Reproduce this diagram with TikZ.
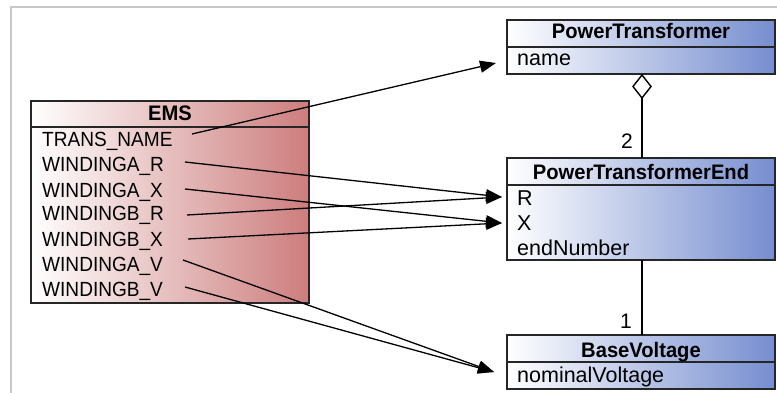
\documentclass[tikz,border=0pt]{standalone}
\usepackage{fontspec}
\setmainfont{Liberation Sans}[BoldFeatures={FakeStretch=0.96}]
\newfontfamily\emsrowfont{Liberation Sans}[FakeStretch=0.93]
\usetikzlibrary{arrows.meta}
\definecolor{emsred}{RGB}{205,125,125}
\definecolor{umlblue}{RGB}{118,142,208}
\definecolor{framegray}{RGB}{200,200,200}
\begin{document}
\begin{tikzpicture}[x=1pt,y=-1pt,
  rowtext/.style={anchor=base west, inner sep=0pt, font=\fontsize{21.5}{24}\selectfont, text=black},
  emsrow/.style={anchor=base west, inner sep=0pt, font=\emsrowfont\fontsize{20.5}{24}\selectfont, text=black},
  headtext/.style={anchor=base, inner sep=0pt, font=\fontsize{21}{24}\selectfont\bfseries, text=black},
  multlabel/.style={anchor=base, inner sep=0pt, font=\fontsize{21}{24}\selectfont, text=black},
  boxline/.style={line width=1.4pt, draw=black!85},
  conn/.style={line width=1.3pt, -{Triangle[length=16pt,width=12pt]}},
  assoc/.style={line width=1.4pt},
]
\useasboundingbox (0,0) rectangle (777,393);
% frame
\draw[framegray, line width=2pt] (11,393) -- (11,7) -- (777,7);

% EMS box
\path[left color=white, right color=emsred] (31,101) rectangle (309,303);
\draw[boxline] (31,101) rectangle (309,303);
\draw[boxline] (31,127) -- (309,127);
\node[headtext] (emsh) at (170,121) {EMS};
\node[emsrow] (e1) at (42,147) {TRANS\_NAME};
\node[emsrow] (e2) at (42,172) {WINDINGA\_R};
\node[emsrow] (e3) at (42,197) {WINDINGA\_X};
\node[emsrow] (e4) at (42,221) {WINDINGB\_R};
\node[emsrow] (e5) at (42,246) {WINDINGB\_X};
\node[emsrow] (e6) at (42,271) {WINDINGA\_V};
\node[emsrow] (e7) at (42,296) {WINDINGB\_V};

% PowerTransformer
\path[left color=white, right color=umlblue] (507,20) rectangle (775,74);
\draw[boxline] (507,20) rectangle (775,74);
\draw[boxline] (507,47) -- (775,47);
\node[headtext] (pth) at (641,39) {PowerTransformer};
\node[rowtext] (ptname) at (517,66) {name};

% PowerTransformerEnd
\path[left color=white, right color=umlblue] (507,158) rectangle (775,260);
\draw[boxline] (507,158) rectangle (775,260);
\draw[boxline] (507,185) -- (775,185);
\node[headtext] (pteh) at (641,180) {PowerTransformerEnd};
\node[rowtext] (pter) at (517,205) {R};
\node[rowtext] (ptex) at (517,230) {X};
\node[rowtext] (pten) at (517,255) {endNumber};

% BaseVoltage
\path[left color=white, right color=umlblue] (507,335) rectangle (775,389);
\draw[boxline] (507,335) rectangle (775,389);
\draw[boxline] (507,362) -- (775,362);
\node[headtext] (bvh) at (641,357) {BaseVoltage};
\node[rowtext] (bvnv) at (517,382) {nominalVoltage};

% associations
\coordinate (dtop) at (642,75);
\coordinate (dbot) at (642,98);
\coordinate (pteTop) at (642,158);
\coordinate (pteBot) at (642,260);
\coordinate (bvTop) at (642,335);
\draw[assoc, fill=white] (dtop) -- (651,86.5) -- (dbot) -- (633,86.5) -- cycle;
\draw[assoc] (dbot) -- (pteTop);
\draw[assoc] (pteBot) -- (bvTop);
\node[multlabel] (m2) at (627,149) {2};
\node[multlabel] (m1) at (626,328) {1};

% mapping connectors
\coordinate (s1) at (192,134);
\coordinate (s2) at (185,162);
\coordinate (s3) at (185,189);
\coordinate (s4) at (187,215);
\coordinate (s5) at (188,239);
\coordinate (s6) at (183,260);
\coordinate (s7) at (185,287);
\coordinate (tName) at (496,63);
\coordinate (tR) at (502,197);
\coordinate (tX) at (502,223);
\coordinate (tNV) at (494,372);
\draw[conn] (s1) -- (tName);
\draw[conn] (s2) -- (tR);
\draw[conn] (s3) -- (tX);
\draw[conn] (s4) -- (tR);
\draw[conn] (s5) -- (tX);
\draw[conn] (s6) -- (tNV);
\draw[conn] (s7) -- (tNV);
\end{tikzpicture}
\end{document}
